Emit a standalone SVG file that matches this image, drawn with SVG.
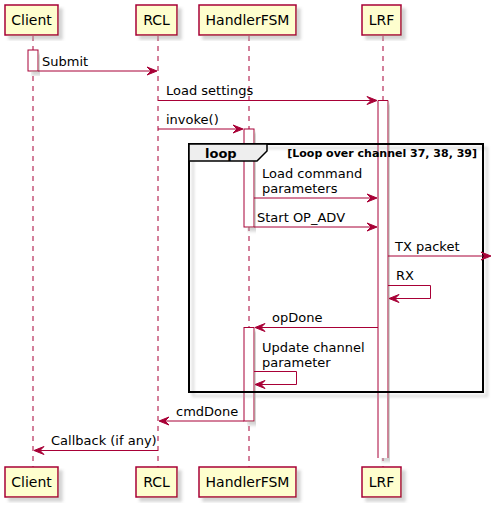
<svg xmlns="http://www.w3.org/2000/svg" width="495" height="510" viewBox="0 0 495 510">
<defs>
<filter id="sh" x="-10%" y="-10%" width="130%" height="130%">
<feGaussianBlur in="SourceAlpha" stdDeviation="1.7" result="b"/>
<feOffset in="b" dx="4" dy="4" result="o"/>
<feColorMatrix in="o" type="matrix" values="0 0 0 0 0.4  0 0 0 0 0.4  0 0 0 0 0.4  0 0 0 0.5 0" result="c"/>
<feMerge><feMergeNode in="c"/><feMergeNode in="SourceGraphic"/></feMerge>
</filter>
</defs>
<style>
.life{stroke:#A80036;stroke-width:1;stroke-dasharray:5,5;fill:none}
.box{fill:#FEFECE;stroke:#A80036;stroke-width:1.5}
.pt{font-family:"DejaVu Sans","Liberation Sans",sans-serif;font-size:14px;fill:#000;text-anchor:middle}
.act{fill:#FFFFFF;stroke:#A80036;stroke-width:1}
.msg{stroke:#A80036;stroke-width:1;fill:none}
.ah{fill:#A80036;stroke:#A80036;stroke-width:1}
.mt{font-family:"DejaVu Sans","Liberation Sans",sans-serif;font-size:13px;fill:#000}
.frame{fill:none;stroke:#000;stroke-width:2}
.tab{fill:#EEEEEE;stroke:#000;stroke-width:1.5}
.ft{font-family:"DejaVu Sans","Liberation Sans",sans-serif;font-weight:bold;fill:#000}
</style>
<g id="lifelines">
<line class="life" x1="33" y1="36" x2="33" y2="467"/>
<line class="life" x1="158" y1="36" x2="158" y2="467"/>
<line class="life" x1="249" y1="36" x2="249" y2="467"/>
<line class="life" x1="383" y1="36" x2="383" y2="467"/>
</g>
<g id="Client">
<rect class="box" x="5" y="5" width="53" height="30" filter="url(#sh)"/>
<text class="pt" x="31.5" y="25">Client</text>
<rect class="box" x="5" y="467" width="53" height="30" filter="url(#sh)"/>
<text class="pt" x="31.5" y="487">Client</text>
</g>
<g id="RCL">
<rect class="box" x="136" y="5" width="41" height="30" filter="url(#sh)"/>
<text class="pt" x="156.5" y="25">RCL</text>
<rect class="box" x="136" y="467" width="41" height="30" filter="url(#sh)"/>
<text class="pt" x="156.5" y="487">RCL</text>
</g>
<g id="HandlerFSM">
<rect class="box" x="199" y="5" width="97" height="30" filter="url(#sh)"/>
<text class="pt" x="247.5" y="25">HandlerFSM</text>
<rect class="box" x="199" y="467" width="97" height="30" filter="url(#sh)"/>
<text class="pt" x="247.5" y="487">HandlerFSM</text>
</g>
<g id="LRF">
<rect class="box" x="362" y="5" width="39" height="30" filter="url(#sh)"/>
<text class="pt" x="381.5" y="25">LRF</text>
<rect class="box" x="362" y="467" width="39" height="30" filter="url(#sh)"/>
<text class="pt" x="381.5" y="487">LRF</text>
</g>
<g id="activations">
<rect class="act" x="28" y="50" width="10" height="21" filter="url(#sh)"/>
<g filter="url(#sh)">
<rect x="378" y="100.5" width="10" height="357.5" fill="#FFFFFF"/>
<path class="act" d="M378,458 L378,100.5 L388,100.5 L388,458"/>
</g>
<rect class="act" x="244" y="129" width="10" height="98" filter="url(#sh)"/>
<rect class="act" x="244" y="327.5" width="10" height="93.5" filter="url(#sh)"/>
</g>
<g id="loop">
<rect class="frame" x="189" y="144" width="294" height="248" filter="url(#sh)"/>
<path class="tab" d="M189,144 L267,144 L267,151 L257,161 L189,161 Z"/>
<text class="ft" x="205" y="157.5" font-size="13">loop</text>
<text class="ft" x="477" y="156.5" font-size="11" text-anchor="end">[Loop over channel 37, 38, 39]</text>
</g>
<g id="connectors">
<line class="msg" x1="38" y1="71" x2="156" y2="71"/>
<polygon class="ah" points="147,67 157,71 147,75 151,71"/>
<text class="mt" x="42" y="66">Submit</text>

<line class="msg" x1="158" y1="100.5" x2="376" y2="100.5"/>
<polygon class="ah" points="367,96.5 377,100.5 367,104.5 371,100.5"/>
<text class="mt" x="166" y="95">Load settings</text>

<line class="msg" x1="158" y1="129" x2="242" y2="129"/>
<polygon class="ah" points="233,125 243,129 233,133 237,129"/>
<text class="mt" x="166" y="124">invoke()</text>

<line class="msg" x1="254" y1="198" x2="376" y2="198"/>
<polygon class="ah" points="367,194 377,198 367,202 371,198"/>
<text class="mt" x="262" y="178">Load command</text>
<text class="mt" x="262" y="193">parameters</text>

<line class="msg" x1="254" y1="227" x2="376" y2="227"/>
<polygon class="ah" points="367,223 377,227 367,231 371,227"/>
<text class="mt" x="257" y="222">Start OP_ADV</text>

<line class="msg" x1="388" y1="256" x2="490" y2="256"/>
<polygon class="ah" points="481,252 491,256 481,260 485,256"/>
<text class="mt" x="395" y="251">TX packet</text>

<polyline class="msg" points="388,285.5 430.5,285.5 430.5,298.5 390,298.5"/>
<polygon class="ah" points="399,294.5 389,298.5 399,302.5 395,298.5"/>
<text class="mt" x="396" y="280">RX</text>

<line class="msg" x1="256" y1="327.5" x2="378" y2="327.5"/>
<polygon class="ah" points="265,323.5 255,327.5 265,331.5 261,327.5"/>
<text class="mt" x="272" y="322">opDone</text>

<polyline class="msg" points="254,371.5 296.5,371.5 296.5,384.5 256,384.5"/>
<polygon class="ah" points="265,380.5 255,384.5 265,388.5 261,384.5"/>
<text class="mt" x="262" y="352">Update channel</text>
<text class="mt" x="262" y="367">parameter</text>

<line class="msg" x1="160" y1="421" x2="244" y2="421"/>
<polygon class="ah" points="169,417 159,421 169,425 165,421"/>
<text class="mt" x="176" y="415.5">cmdDone</text>

<line class="msg" x1="35" y1="450.5" x2="158" y2="450.5"/>
<polygon class="ah" points="44,446.5 34,450.5 44,454.5 40,450.5"/>
<text class="mt" x="51" y="445">Callback (if any)</text>
</g>
</svg>
